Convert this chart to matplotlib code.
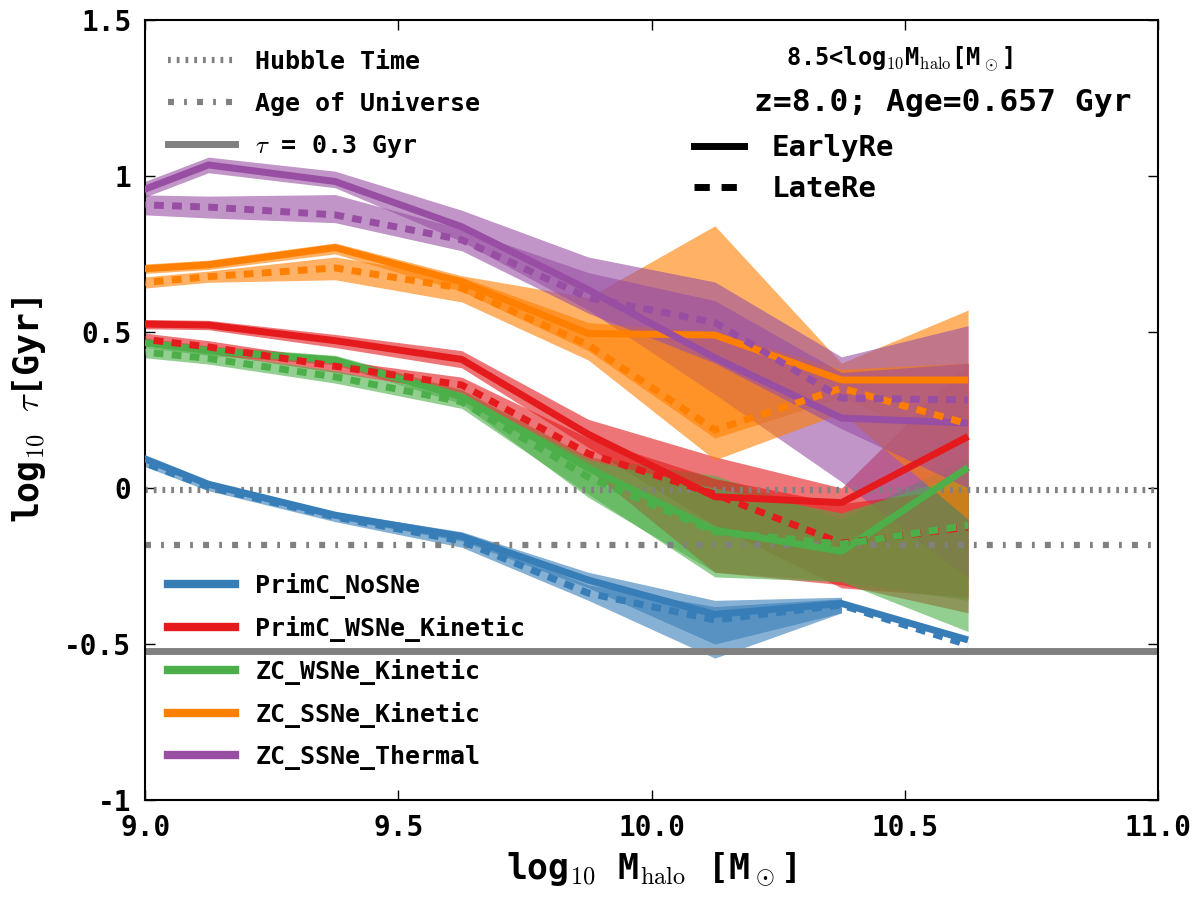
import numpy as np
import matplotlib
matplotlib.use('Agg')
import matplotlib.pyplot as plt
from matplotlib.lines import Line2D

plt.rcParams['font.family'] = ['DejaVu Sans Mono']
plt.rcParams['font.weight'] = 'bold'
plt.rcParams['axes.labelweight'] = 'bold'
plt.rcParams['mathtext.fontset'] = 'cm'
plt.rcParams['lines.scale_dashes'] = False

# halo mass bin centres
mass = [8.875, 9.125, 9.375, 9.625, 9.875, 10.125, 10.375, 10.625]

models = ['PrimC_NoSNe', 'PrimC_WSNe_Kinetic', 'ZC_WSNe_Kinetic', 'ZC_SSNe_Kinetic', 'ZC_SSNe_Thermal']
colors = ['#377eb8', '#e41a1c', '#4daf4a', '#ff7f00', '#984ea3']

# median log10 tau, EarlyRe
early_med = [
    [0.174, 0.012, -0.087, -0.155, -0.295, -0.405, -0.370, -0.487],
    [0.528, 0.522, 0.472, 0.412, 0.172, -0.028, -0.047, 0.165],
    [0.490, 0.440, 0.410, 0.292, 0.064, -0.135, -0.203, 0.066],
    [0.690, 0.715, 0.770, 0.660, 0.495, 0.490, 0.346, 0.346],
    [0.880, 1.035, 0.982, 0.837, 0.635, 0.417, 0.224, 0.208],
]
early_lo = [
    [0.164, 0.002, -0.097, -0.170, -0.320, -0.500, -0.400, np.nan],
    [0.513, 0.507, 0.450, 0.385, 0.130, -0.120, -0.320, -0.350],
    [0.475, 0.425, 0.395, 0.270, -0.030, -0.270, -0.300, -0.360],
    [0.675, 0.700, 0.750, 0.630, 0.440, 0.160, 0.290, 0.120],
    [0.855, 1.010, 0.962, 0.790, 0.570, 0.300, 0.020, -0.290],
]
early_hi = [
    [0.184, 0.022, -0.077, -0.140, -0.270, -0.360, -0.350, np.nan],
    [0.543, 0.537, 0.492, 0.440, 0.220, 0.100, 0.000, 0.400],
    [0.505, 0.455, 0.425, 0.315, 0.100, 0.040, -0.100, 0.100],
    [0.705, 0.730, 0.785, 0.680, 0.610, 0.840, 0.400, 0.570],
    [0.905, 1.060, 1.015, 0.890, 0.740, 0.660, 0.420, 0.520],
]

# median log10 tau, LateRe
late_med = [
    [0.157, 0.003, -0.093, -0.170, -0.337, -0.423, -0.375, -0.503],
    [0.500, 0.452, 0.390, 0.330, 0.110, -0.020, -0.177, -0.125],
    [0.455, 0.415, 0.356, 0.276, 0.035, -0.140, -0.180, -0.120],
    [0.640, 0.677, 0.705, 0.640, 0.458, 0.186, 0.320, 0.205],
    [0.914, 0.900, 0.875, 0.795, 0.610, 0.530, 0.288, 0.282],
]
late_lo = [
    [0.145, -0.009, -0.108, -0.190, -0.360, -0.545, -0.400, np.nan],
    [0.480, 0.432, 0.370, 0.305, 0.060, -0.270, -0.310, -0.400],
    [0.437, 0.397, 0.336, 0.255, -0.020, -0.285, -0.300, -0.460],
    [0.622, 0.659, 0.667, 0.596, 0.410, 0.090, 0.240, -0.100],
    [0.885, 0.865, 0.850, 0.760, 0.560, 0.400, 0.190, 0.000],
]
late_hi = [
    [0.169, 0.015, -0.078, -0.150, -0.310, -0.380, -0.355, np.nan],
    [0.520, 0.472, 0.410, 0.355, 0.160, 0.030, -0.050, 0.000],
    [0.473, 0.433, 0.376, 0.297, 0.090, 0.000, -0.080, 0.050],
    [0.658, 0.695, 0.740, 0.676, 0.530, 0.500, 0.380, 0.400],
    [0.943, 0.935, 0.940, 0.830, 0.690, 0.600, 0.370, 0.400],
]

hubble_time = -0.006
age_universe = np.log10(0.657)
tau_ref = np.log10(0.3)

fig = plt.figure(figsize=(12, 9), dpi=100)
ax = fig.add_axes([0.121, 0.111, 0.844, 0.867])

# bands first, then the medians on top
for i in range(len(models)):
    ax.fill_between(mass, early_lo[i], early_hi[i], color=colors[i], alpha=0.6, lw=0, zorder=1)
for i in range(len(models)):
    ax.fill_between(mass, late_lo[i], late_hi[i], color=colors[i], alpha=0.6, lw=0, zorder=1)
for i in range(len(models)):
    ax.plot(mass, early_med[i], color=colors[i], lw=5, solid_capstyle='butt', zorder=3)
for i in range(len(models)):
    ax.plot(mass, late_med[i], color=colors[i], lw=5, dashes=(7, 6), zorder=3)

ax.axhline(hubble_time, color='gray', lw=4.5, dashes=(2, 4.3), zorder=2)
ax.axhline(age_universe, color='gray', lw=4.5, dashes=(4.3, 7.3, 2, 7.3), zorder=2)
ax.axhline(tau_ref, color='gray', lw=5, zorder=2)

ax.set_xlim(9.0, 11.0)
ax.set_ylim(-1.0, 1.5)
ax.set_xticks([9.0, 9.5, 10.0, 10.5, 11.0])
ax.set_xticklabels(['9.0', '9.5', '10.0', '10.5', '11.0'])
ax.set_yticks([-1.0, -0.5, 0.0, 0.5, 1.0, 1.5])
ax.set_yticklabels(['-1', '-0.5', '0', '0.5', '1', '1.5'])
ax.tick_params(direction='in', top=True, right=True, length=7, width=1, labelsize=20, pad=10)
for s in ax.spines.values():
    s.set_linewidth(1.5)

ax.set_xlabel(r'log$_{10}$ M$_{\rm halo}$ [M$_\odot$]', fontsize=25, fontweight='bold', labelpad=6)
ax.set_ylabel(r'log$_{10}$ $\tau$[Gyr]', fontsize=25, fontweight='bold', labelpad=12)

# reference lines legend
ref_handles = [
    Line2D([], [], color='gray', lw=4.5, dashes=(2, 4.3)),
    Line2D([], [], color='gray', lw=4.5, dashes=(4.3, 7.3, 2, 7.3)),
    Line2D([], [], color='gray', lw=5),
]
leg1 = ax.legend(ref_handles, ['Hubble Time', 'Age of Universe', r'$\tau$ = 0.3 Gyr'],
                 loc='upper left', frameon=False, fontsize=18, handlelength=2.7,
                 handletextpad=0.8, labelspacing=0.68, bbox_to_anchor=(0.0, 0.99))
ax.add_artist(leg1)

# reionization legend
re_handles = [
    Line2D([], [], color='k', lw=5),
    Line2D([], [], color='k', lw=5, dashes=(11, 8.5)),
]
leg2 = ax.legend(re_handles, ['EarlyRe', 'LateRe'], loc='upper left', frameon=False,
                 fontsize=21, handlelength=1.7, handletextpad=0.95, labelspacing=0.45,
                 bbox_to_anchor=(0.516, 0.887))
ax.add_artist(leg2)

ax.text(0.745, 0.949, r'8.5<log$_{10}$M$_{\rm halo}$[M$_\odot$]', transform=ax.transAxes,
        fontsize=17, ha='center', va='center')
ax.text(0.787, 0.894, 'z=8.0; Age=0.657 Gyr', transform=ax.transAxes,
        fontsize=22.5, ha='center', va='center')

# model legend
mod_handles = [Line2D([], [], color=c, lw=6) for c in colors]
leg3 = ax.legend(mod_handles, models, loc='lower left', frameon=False, fontsize=18,
                 handlelength=2.7, handletextpad=0.8, labelspacing=0.68,
                 bbox_to_anchor=(0.0, 0.01))

fig.savefig('out.png', dpi=100)
